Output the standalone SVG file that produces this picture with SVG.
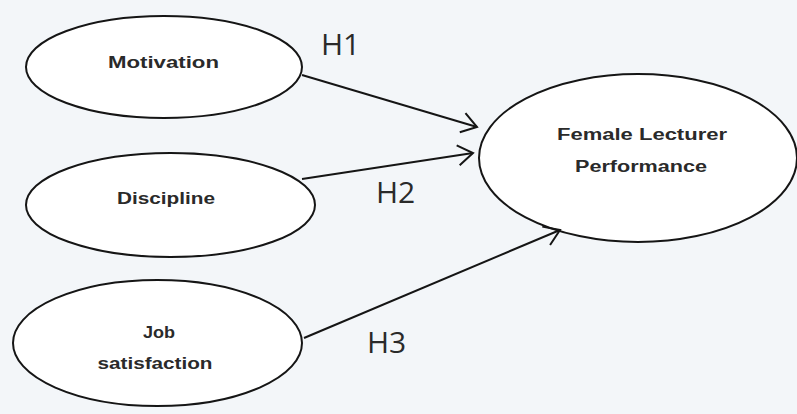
<svg xmlns="http://www.w3.org/2000/svg" width="797" height="414" viewBox="0 0 797 414">
<defs>
<style>
.node ellipse{fill:#fff;stroke:#151515;stroke-width:2}
.lbl{font-family:"Liberation Sans",Arial,sans-serif;font-weight:bold;font-size:16px;fill:#2a2a2a}
.h{font-family:"Open Sans","DejaVu Sans",sans-serif;font-size:30px;fill:#2a2a2a}
.edge{stroke:#151515;stroke-width:2;fill:none;marker-end:url(#arr)}
</style>
<marker id="arr" markerUnits="userSpaceOnUse" markerWidth="20" markerHeight="24" refX="16" refY="11" orient="auto">
<path d="M1,1 L16,11 L1,21" fill="none" stroke="#151515" stroke-width="2"/>
</marker>
</defs>
<rect width="797" height="414" fill="#f3f6f9"/>
<g id="motivation" class="node">
<ellipse cx="164" cy="67" rx="138" ry="51"/>
<text class="lbl" x="163.5" y="68" text-anchor="middle" textLength="111" lengthAdjust="spacingAndGlyphs">Motivation</text>
</g>
<g id="discipline" class="node">
<ellipse cx="170.5" cy="205" rx="144.5" ry="52"/>
<text class="lbl" x="166" y="204" text-anchor="middle" textLength="98" lengthAdjust="spacingAndGlyphs">Discipline</text>
</g>
<g id="job" class="node">
<ellipse cx="157.5" cy="343" rx="144.5" ry="63"/>
<text class="lbl" x="159" y="338" text-anchor="middle" textLength="32" lengthAdjust="spacingAndGlyphs">Job</text>
<text class="lbl" x="155" y="369" text-anchor="middle" textLength="115" lengthAdjust="spacingAndGlyphs">satisfaction</text>
</g>
<g id="performance" class="node">
<ellipse cx="638" cy="158" rx="159" ry="84"/>
<text class="lbl" x="642" y="140" text-anchor="middle" textLength="170" lengthAdjust="spacingAndGlyphs">Female Lecturer</text>
<text class="lbl" x="641" y="172" text-anchor="middle" textLength="132" lengthAdjust="spacingAndGlyphs">Performance</text>
</g>
<g id="connectors">
<line class="edge" x1="302" y1="75" x2="477" y2="127"/>
<line class="edge" x1="302" y1="179" x2="473" y2="153"/>
<line class="edge" x1="304" y1="338" x2="560" y2="230"/>
</g>
<g id="labels">
<text class="h" x="321" y="55">H1</text>
<text class="h" x="376" y="203">H2</text>
<text class="h" x="367" y="353">H3</text>
</g>
</svg>
